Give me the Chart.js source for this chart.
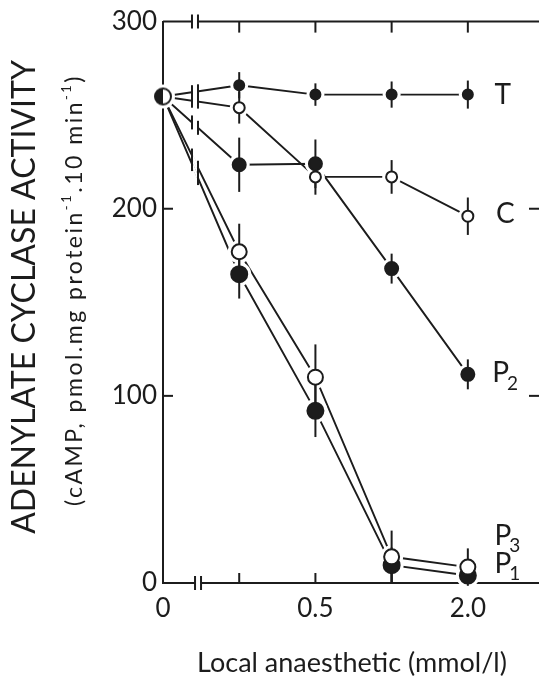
<!DOCTYPE html>
<html><head><meta charset="utf-8">
<script src="https://cdn.jsdelivr.net/npm/chart.js@4.4.1/dist/chart.umd.min.js"></script>
<style>
html,body{margin:0;padding:0;background:#fff;overflow:hidden;}
#wrap{position:relative;width:560px;height:679px;}
</style></head>
<body><div id="wrap"><canvas id="c" width="560" height="679"></canvas></div>
<script>
// categories (x positions on the broken axis, index 0..4)
const categories = ['0', '0.25', '0.5', '0.75', '2.0'];
const xTickValues = [0, 2, 4];
const xTickLabels = ['0', '0.5', '2.0'];
const yTickValues = [0, 100, 200, 300];

const seriesT  = [260, 266, 261, 261, 261];
const errT     = [0, 7, 6, 7, 7.5];
const seriesC  = [260, 254, 217, 217, 196];
const errC     = [0, 8.5, 9.5, 9, 10];
const seriesP2 = [260, 223.5, 224, 168, 111.5];
const errP2    = [0, 14.5, 13, 8, 8];
const seriesP3 = [260, 177, 110, 14, 8.5];
const errP3    = [0, 15, 17.5, 14, 10];
const seriesP1 = [260, 165, 92, 9.5, 4];
const errP1    = [0, 13, 14, 9.5, 4];

const INK = '#1c1c1c';
const FONT = 'Lato';

const series = [
  {name:'T',  data:seriesT,  err:errT,  r:5,   filled:true,  label:{text:'T',  sub:'', x:4.35, y:261}},
  {name:'C',  data:seriesC,  err:errC,  r:5.5, filled:false, label:{text:'C',  sub:'', x:4.37, y:197}},
  {name:'P2', data:seriesP2, err:errP2, r:6.5, filled:true,  label:{text:'P', sub:'2', x:4.32, y:112}},
  {name:'P3', data:seriesP3, err:errP3, r:7.5, filled:false, label:{text:'P', sub:'3', x:4.35, y:25}},
  {name:'P1', data:seriesP1, err:errP1, r:8,   filled:true,  label:{text:'P', sub:'1', x:4.35, y:10}}
];

// half filled marker for the common zero point
const half = document.createElement('canvas');
half.width = 22; half.height = 22;
(function(){
  const g = half.getContext('2d');
  g.fillStyle = '#fff';
  g.beginPath(); g.arc(11,11,8,0,Math.PI*2); g.fill();
  g.fillStyle = INK;
  g.beginPath(); g.arc(11,11,8,Math.PI/2,Math.PI*1.5); g.closePath(); g.fill();
  g.strokeStyle = INK; g.lineWidth = 2;
  g.beginPath(); g.arc(11,11,8,0,Math.PI*2); g.stroke();
})();

const pts = arr => arr.map((v,i)=>({x:i, y:v}));
const datasets = [];
series.forEach((s,si)=>{
  datasets.push({
    label:s.name, data:pts(s.data), showLine:false, order:0, clip:false,
    pointRadius: c => c.dataIndex===0 ? (s.name==='P1'?8:0) : s.r,
    pointStyle: c => (c.dataIndex===0 && s.name==='P1') ? half : 'circle',
    pointBackgroundColor: s.filled ? INK : '#fff',
    pointBorderColor: INK, pointBorderWidth: 2, pointHoverRadius: s.r,
    _marker:true
  });
});
series.forEach(s=>{
  datasets.push({
    label:s.name+' halo', data:pts(s.data), showLine:false, order:1, clip:false,
    pointRadius: c => c.dataIndex===0 ? (s.name==='P1'?12:0) : s.r+4,
    pointBackgroundColor:'#fff', pointBorderWidth:0, pointBorderColor:'#fff',
    pointHoverRadius:0
  });
});
series.forEach(s=>{
  datasets.push({
    label:s.name+' line', data:pts(s.data), showLine:true, order:2, clip:false,
    borderColor:INK, borderWidth:1.9, pointRadius:0, pointHoverRadius:0, tension:0, fill:false
  });
});

let errDrawn = false;
const decor = {
  id:'decor',
  beforeDatasetsDraw(chart){ errDrawn = false; },
  beforeDatasetDraw(chart, args){
    const ds = chart.data.datasets[args.index];
    if (!ds._marker || errDrawn) return;
    errDrawn = true;
    const ctx = chart.ctx, xs = chart.scales.x, ys = chart.scales.y;
    ctx.save();
    ctx.strokeStyle = INK; ctx.lineWidth = 2;
    const bx = xs.getPixelForValue(0.40);
    series.forEach(s=>{
      const x0 = xs.getPixelForValue(0), x1 = xs.getPixelForValue(1);
      const y0 = ys.getPixelForValue(s.data[0]), y1 = ys.getPixelForValue(s.data[1]);
      const yAt = x => y0 + (y1-y0)*(x-x0)/(x1-x0);
      ctx.fillStyle = '#fff';
      ctx.beginPath();
      ctx.moveTo(bx-1, yAt(bx-1)-3); ctx.lineTo(bx+4, yAt(bx+4)-3);
      ctx.lineTo(bx+4, yAt(bx+4)+3); ctx.lineTo(bx-1, yAt(bx-1)+3); ctx.closePath(); ctx.fill();
      [bx-1.5, bx+4.5].forEach(x=>{
        const yc = yAt(x);
        ctx.beginPath(); ctx.moveTo(x, yc-7); ctx.lineTo(x, yc+7); ctx.stroke();
      });
    });
    ctx.lineWidth = 2;
    series.forEach(s=>{
      s.data.forEach((v,i)=>{
        const e = s.err[i]; if (!e) return;
        const x = xs.getPixelForValue(i);
        ctx.beginPath();
        ctx.moveTo(x, ys.getPixelForValue(v+e)); ctx.lineTo(x, ys.getPixelForValue(v-e)); ctx.stroke();
      });
    });
    ctx.restore();
  },
  afterDraw(chart){
    const ctx = chart.ctx, xs = chart.scales.x, ys = chart.scales.y, a = chart.chartArea;
    ctx.save();
    ctx.strokeStyle = INK; ctx.lineWidth = 2;
    ctx.beginPath();
    ctx.moveTo(a.left, a.top); ctx.lineTo(a.right, a.top); ctx.lineTo(a.right, a.bottom);
    ctx.stroke();
    ctx.lineWidth = 2;
    [1,2,3,4].forEach(i=>{
      const x = xs.getPixelForValue(i);
      ctx.beginPath(); ctx.moveTo(x, a.top); ctx.lineTo(x, a.top+11); ctx.stroke();
    });
    [1,2,3].forEach(i=>{
      const x = xs.getPixelForValue(i);
      ctx.beginPath(); ctx.moveTo(x, a.bottom); ctx.lineTo(x, a.bottom-10); ctx.stroke();
    });
    [100,200].forEach(v=>{
      const y = ys.getPixelForValue(v);
      ctx.beginPath(); ctx.moveTo(a.left, y); ctx.lineTo(a.left+10, y); ctx.stroke();
      ctx.beginPath(); ctx.moveTo(a.right, y); ctx.lineTo(a.right-12, y); ctx.stroke();
    });
    const drawBreak = (x, y) => {
      ctx.fillStyle = '#fff';
      ctx.fillRect(x-1, y-3, 5, 6);
      ctx.beginPath();
      ctx.moveTo(x-1.5, y-7); ctx.lineTo(x-1.5, y+7);
      ctx.moveTo(x+4.5, y-7); ctx.lineTo(x+4.5, y+7);
      ctx.stroke();
    };
    drawBreak(xs.getPixelForValue(0.40), a.top);
    drawBreak(xs.getPixelForValue(0.44), a.bottom);
    ctx.fillStyle = INK; ctx.textBaseline = 'middle'; ctx.textAlign = 'left';
    series.forEach(s=>{
      const L = s.label;
      const x = xs.getPixelForValue(L.x), y = ys.getPixelForValue(L.y);
      ctx.font = '28px ' + FONT;
      ctx.fillText(L.text, x, y);
      if (L.sub){
        const w = ctx.measureText(L.text).width;
        ctx.font = '19px ' + FONT;
        ctx.fillText(L.sub, x + w - 2, y + 10);
      }
    });
    ctx.save();
    ctx.translate(25, 297); ctx.rotate(-Math.PI/2);
    ctx.textAlign = 'center'; ctx.textBaseline = 'middle';
    ctx.font = '32px ' + FONT;
    ctx.fillText('ADENYLATE CYCLASE ACTIVITY', 0, 0);
    ctx.restore();
    ctx.save();
    ctx.translate(75, 290); ctx.rotate(-Math.PI/2);
    ctx.textBaseline = 'middle';
    try { ctx.letterSpacing = '2.5px'; } catch(e) {}
    const parts = [['(cAMP, pmol.mg protein',0],['-1',1],['.10 min',0],['-1',1],[')',0]];
    const big = '23px ' + FONT, small = '13px ' + FONT;
    let total = 0;
    parts.forEach(p=>{ ctx.font = p[1]?small:big; total += ctx.measureText(p[0]).width; });
    let cx = -total/2;
    ctx.textAlign = 'left';
    parts.forEach(p=>{
      ctx.font = p[1]?small:big;
      ctx.fillText(p[0], cx, p[1] ? -8 : 0);
      cx += ctx.measureText(p[0]).width;
    });
    ctx.restore();
    ctx.restore();
  }
};

new Chart(document.getElementById('c'), {
  type:'scatter',
  data:{datasets},
  options:{
    responsive:false, animation:false, devicePixelRatio:1,
    layout:{padding:{left:0, top:18, right:19, bottom:0}},
    plugins:{legend:{display:false}, tooltip:{enabled:false}},
    scales:{
      x:{
        type:'linear', min:0, max:4.96,
        afterBuildTicks: s => { s.ticks = xTickValues.map(v=>({value:v})); },
        afterFit: s => { s.height = 96; },
        ticks:{ callback:(v)=>xTickLabels[xTickValues.indexOf(v)] ?? '', color:INK,
                font:{family:FONT, size:26}, padding:10, maxRotation:0, autoSkip:false },
        grid:{display:false, drawTicks:false},
        border:{display:true, color:INK, width:2},
        title:{display:true, text:'Local anaesthetic (mmol/l)', color:INK,
               font:{family:FONT, size:27}, padding:{top:14, bottom:0}}
      },
      y:{
        type:'linear', min:0, max:300,
        afterBuildTicks: s => { s.ticks = yTickValues.map(v=>({value:v})); },
        afterFit: s => { s.width = 163; },
        ticks:{ color:INK, font:{family:FONT, size:26}, padding:6 },
        grid:{display:false, drawTicks:false},
        border:{display:true, color:INK, width:2}
      }
    }
  },
  plugins:[decor]
});
</script></body></html>
